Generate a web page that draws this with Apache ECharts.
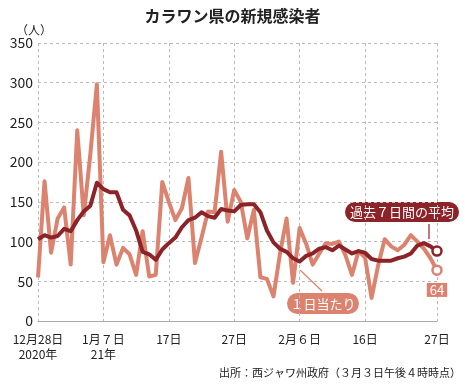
<!DOCTYPE html>
<html><head><meta charset="utf-8">
<script src="https://cdn.jsdelivr.net/npm/echarts@6/dist/echarts.min.js"></script>
<style>html,body{margin:0;padding:0;background:#fff}#c{width:465px;height:385px}</style>
</head><body><div id="c"></div>
<script>
const categories = ['12/28','12/29','12/30','12/31',
 '1/1','1/2','1/3','1/4','1/5','1/6','1/7','1/8','1/9','1/10','1/11','1/12','1/13','1/14','1/15','1/16',
 '1/17','1/18','1/19','1/20','1/21','1/22','1/23','1/24','1/25','1/26','1/27','1/28','1/29','1/30','1/31',
 '2/1','2/2','2/3','2/4','2/5','2/6','2/7','2/8','2/9','2/10','2/11','2/12','2/13','2/14','2/15',
 '2/16','2/17','2/18','2/19','2/20','2/21','2/22','2/23','2/24','2/25','2/26','2/27'];
const daily = [55,176,86,129,143,71,240,133,210,298,
 74,108,71,92,84,58,113,56,58,175,
 150,127,142,180,73,105,138,137,213,125,
 165,150,104,140,55,53,31,85,129,48,
 117,97,71,85,98,97,100,83,58,88,
 80,29,70,103,94,89,96,108,100,91,
 79,64];
const avg7 = [103,108,105,107,116,113,127,138,145,174,
 166,162,162,140,133,114,87,84,77,90,
 98,105,118,127,130,137,132,130,141,139,
 138,146,147,147,137,114,99,91,87,79,
 75,82,85,91,93,89,95,90,85,88,
 86,78,76,76,76,79,81,85,95,98,
 94,88];
const tickIdx = [0,10,20,30,40,50,61];
const tickText = ['12月28日\n2020年','1月７日\n21年','17日','27日','2月６日','16日','27日'];
const yTicks = [0,50,100,150,200,250,300,350];

const LIGHT = '#db836e', DARK = '#8c2328';
const FONT = '"Noto Sans CJK JP","Noto Sans",sans-serif';
const last = daily.length - 1;
const chart = echarts.init(document.getElementById('c'), null, {renderer:'canvas'});
const isTick = (i) => tickIdx.indexOf(i) >= 0;

chart.setOption({
  animation:false,
  textStyle:{fontFamily:FONT},
  title:{text:'カラワン県の新規感染者', left:'center', top:3,
    textStyle:{fontFamily:FONT, fontSize:16, fontWeight:'bold', color:'#222'}},
  grid:{left:38, right:28, top:43, bottom:64},
  xAxis:{type:'category', data:categories, boundaryGap:false,
    axisLine:{show:true, lineStyle:{color:'#aaa', width:1}},
    axisTick:{show:false},
    axisLabel:{interval:(i)=>isTick(i), formatter:(v,i)=>tickText[tickIdx.indexOf(i)] || '',
      fontFamily:FONT, fontSize:12, color:'#222', lineHeight:15, margin:11},
    splitLine:{show:true, interval:(i)=>isTick(i), lineStyle:{color:'#bbb', type:[3,3], width:1}}
  },
  yAxis:{type:'value', min:0, max:350, interval:50,
    name:'（人）', nameLocation:'end', nameGap:6,
    nameTextStyle:{fontFamily:FONT, fontSize:12, color:'#222', align:'center', padding:[0,0,0,-8]},
    axisLine:{show:false}, axisTick:{show:false},
    axisLabel:{fontFamily:FONT, fontSize:14, color:'#222', margin:5,
      formatter:(v)=> yTicks.indexOf(v)>=0 ? String(v) : ''},
    splitLine:{lineStyle:{color:'#bbb', type:[3,3], width:1}}
  },
  series:[
    {name:'１日当たり', type:'line', data:daily, z:2,
      showAllSymbol:true,
      symbol:(v,p)=> p.dataIndex===last ? 'circle' : 'none', symbolSize:9,
      lineStyle:{color:LIGHT, width:4, join:'round'},
      itemStyle:{color:'#fff', borderColor:LIGHT, borderWidth:2.5},
      label:{show:true, position:'bottom', distance:7,
        formatter:(p)=> p.dataIndex===last ? String(p.value) : '',
        backgroundColor:LIGHT, color:'#fff', fontFamily:FONT, fontSize:13, padding:[1,3,0,3]},
      emphasis:{disabled:true}
    },
    {name:'過去７日間の平均', type:'line', data:avg7, z:3,
      showAllSymbol:true,
      symbol:(v,p)=> p.dataIndex===last ? 'circle' : 'none', symbolSize:9,
      lineStyle:{color:DARK, width:4, join:'round'},
      itemStyle:{color:'#fff', borderColor:DARK, borderWidth:2.5},
      emphasis:{disabled:true}
    }
  ],
  graphic:[
    {type:'line', shape:{x1:429, y1:224, x2:429, y2:239}, style:{stroke:DARK, lineWidth:1.2}},
    {type:'rect', shape:{x:345, y:202, width:114, height:20, r:10}, style:{fill:DARK}},
    {type:'text', x:402, y:212, style:{text:'過去７日間の平均', fill:'#fff', font:'13px '+FONT, align:'center', verticalAlign:'middle'}},
    {type:'line', shape:{x1:300, y1:270, x2:322, y2:291}, style:{stroke:LIGHT, lineWidth:1.2}},
    {type:'rect', shape:{x:287, y:293, width:72, height:21, r:10.5}, style:{fill:LIGHT}},
    {type:'text', x:323, y:304, style:{text:'１日当たり', fill:'#fff', font:'13px '+FONT, align:'center', verticalAlign:'middle'}},
    {type:'text', right:4, top:367, style:{text:'出所：西ジャワ州政府（３月３日午後４時時点）', fill:'#222', font:'11px '+FONT}}
  ]
});
</script></body></html>
